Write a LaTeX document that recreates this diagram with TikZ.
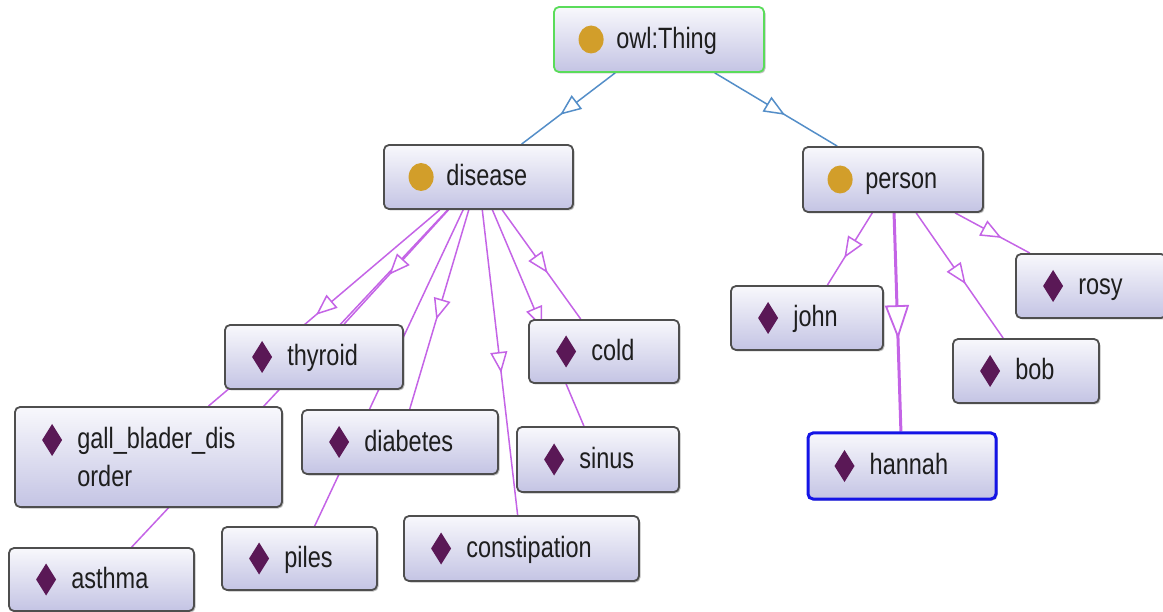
\documentclass[tikz,border=0pt]{standalone}
\usepackage{fontspec}
\setmainfont{Liberation Sans}
\usepackage{graphicx}
\usetikzlibrary{arrows.meta,decorations.markings,shadows,calc}
\pgfdeclarelayer{background}
\pgfsetlayers{background,main}

\definecolor{boxtop}{RGB}{248,248,252}
\definecolor{boxbot}{RGB}{196,196,228}
\definecolor{boxline}{RGB}{78,78,78}
\definecolor{clsicon}{RGB}{210,158,42}
\definecolor{indicon}{RGB}{90,24,86}
\definecolor{isa}{RGB}{196,100,230}
\definecolor{subcl}{RGB}{84,142,200}
\definecolor{thinggreen}{RGB}{90,220,90}
\definecolor{selblue}{RGB}{20,20,230}
\definecolor{txt}{RGB}{30,30,30}

\newcommand{\lbl}[1]{\scalebox{1}[1.25]{#1}}

\tikzset{
  box/.style={draw=boxline, line width=1.8pt, rounded corners=5pt,
    top color=boxtop, bottom color=boxbot, inner sep=0pt,
    drop shadow={shadow xshift=1.5pt, shadow yshift=-1.5pt, opacity=0.25, fill=black}},
  lab/.style={anchor=base west, inner sep=0pt, text=txt,
    font=\fontsize{23.5}{37}\selectfont},
  isaedge/.style={draw=isa, line width=1.5pt, postaction=decorate,
    decoration={markings, mark=at position 0.5 with {
      \draw[isa, line width=1.5pt, -{Triangle[length=21pt,width=17pt,fill=white]}] (-10.5pt,0pt) -- (10.5pt,0pt);}}},
  seledge/.style={draw=isa, line width=3pt, postaction=decorate,
    decoration={markings, mark=at position 0.5 with {
      \draw[isa, line width=1.8pt, -{Triangle[length=34pt,width=24pt,fill=white]}] (-17pt,0pt) -- (17pt,0pt);}}},
  subedge/.style={draw=subcl, line width=1.5pt, postaction=decorate,
    decoration={markings, mark=at position 0.5 with {
      \draw[subcl, line width=1.5pt, -{Triangle[length=21pt,width=17pt,fill=white]}] (-10.5pt,0pt) -- (10.5pt,0pt);}}},
}

\newcommand{\clsicon}[1]{\fill[clsicon] ($(#1.west)+(38,0)$) ellipse [x radius=12.5pt, y radius=14pt];}
\newcommand{\indicon}[2]{\fill[indicon] ($(#1.west)+(38,#2)$) +(0,-16) -- +(10,0) -- +(0,16) -- +(-10,0) -- cycle;}

\begin{document}
\begin{tikzpicture}[x=1pt,y=-1pt]
\useasboundingbox (0,0) rectangle (1163,612);

% class nodes
\node[box, draw=thinggreen, minimum width=210pt, minimum height=65pt] (thing) at (659,39.5) {};
\node[box, minimum width=189pt, minimum height=64pt] (disease) at (478.5,177) {};
\node[box, minimum width=180pt, minimum height=65pt] (person) at (893,179.5) {};

% individuals
\node[box, minimum width=178pt, minimum height=64pt] (thyroid) at (314,357) {};
\node[box, minimum width=150pt, minimum height=63pt] (cold) at (604,351.5) {};
\node[box, minimum width=152pt, minimum height=64pt] (john) at (807,318) {};
\node[box, minimum width=150pt, minimum height=64pt] (rosy) at (1091,286) {};
\node[box, minimum width=146pt, minimum height=64pt] (bob) at (1026,371) {};
\node[box, draw=selblue, line width=3pt, minimum width=188pt, minimum height=66pt] (hannah) at (902,466) {};
\node[box, minimum width=267pt, minimum height=100pt] (gall) at (148.5,457) {};
\node[box, minimum width=196pt, minimum height=64pt] (diabetes) at (400,442) {};
\node[box, minimum width=162pt, minimum height=65pt] (sinus) at (598,459.5) {};
\node[box, minimum width=155pt, minimum height=63pt] (piles) at (299.5,558.5) {};
\node[box, minimum width=235pt, minimum height=65pt] (constipation) at (521.5,548.5) {};
\node[box, minimum width=185pt, minimum height=63pt] (asthma) at (101.5,579.5) {};

% icons
\clsicon{thing}
\clsicon{disease}
\clsicon{person}
\indicon{thyroid}{0}
\indicon{cold}{0}
\indicon{john}{0}
\indicon{rosy}{0}
\indicon{bob}{0}
\indicon{hannah}{0}
\indicon{gall}{-17}
\indicon{diabetes}{0}
\indicon{sinus}{0}
\indicon{piles}{0}
\indicon{constipation}{0}
\indicon{asthma}{0}

% labels
\node[lab] (thing-t) at ($(thing.west)+(63,9)$) {\lbl{owl:Thing}};
\node[lab] (disease-t) at ($(disease.west)+(63,9)$) {\lbl{disease}};
\node[lab] (person-t) at ($(person.west)+(63,9)$) {\lbl{person}};
\node[lab] (thyroid-t) at ($(thyroid.west)+(63,9)$) {\lbl{thyroid}};
\node[lab] (cold-t) at ($(cold.west)+(63,9)$) {\lbl{cold}};
\node[lab] (john-t) at ($(john.west)+(63,9)$) {\lbl{john}};
\node[lab] (rosy-t) at ($(rosy.west)+(63,9)$) {\lbl{rosy}};
\node[lab] (bob-t) at ($(bob.west)+(63,9)$) {\lbl{bob}};
\node[lab] (hannah-t) at ($(hannah.west)+(63,9)$) {\lbl{hannah}};
\node[lab] (gall-t1) at ($(gall.west)+(63,-8)$) {\lbl{gall\_blader\_dis}};
\node[lab] (gall-t2) at ($(gall.west)+(63,29)$) {\lbl{order}};
\node[lab] (diabetes-t) at ($(diabetes.west)+(63,9)$) {\lbl{diabetes}};
\node[lab] (sinus-t) at ($(sinus.west)+(63,9)$) {\lbl{sinus}};
\node[lab] (piles-t) at ($(piles.west)+(63,9)$) {\lbl{piles}};
\node[lab] (constipation-t) at ($(constipation.west)+(63,9)$) {\lbl{constipation}};
\node[lab] (asthma-t) at ($(asthma.west)+(63,9)$) {\lbl{asthma}};

% connectors
\begin{pgfonlayer}{background}
\draw[subedge] (thing) -- (disease);
\draw[subedge] (thing) -- (person);
\draw[isaedge] (disease) -- (asthma);
\draw[isaedge] (disease) -- (gall);
\draw[isaedge] (disease) -- (thyroid);
\draw[isaedge] (disease) -- (piles);
\draw[isaedge] (disease) -- (diabetes);
\draw[isaedge] (disease) -- (constipation);
\draw[isaedge] (disease) -- (sinus);
\draw[isaedge] (disease) -- (cold);
\draw[isaedge] (person) -- (john);
\draw[isaedge] (person) -- (bob);
\draw[isaedge] (person) -- (rosy);
\draw[seledge] (person) -- (hannah);
\end{pgfonlayer}
\end{tikzpicture}
\end{document}
